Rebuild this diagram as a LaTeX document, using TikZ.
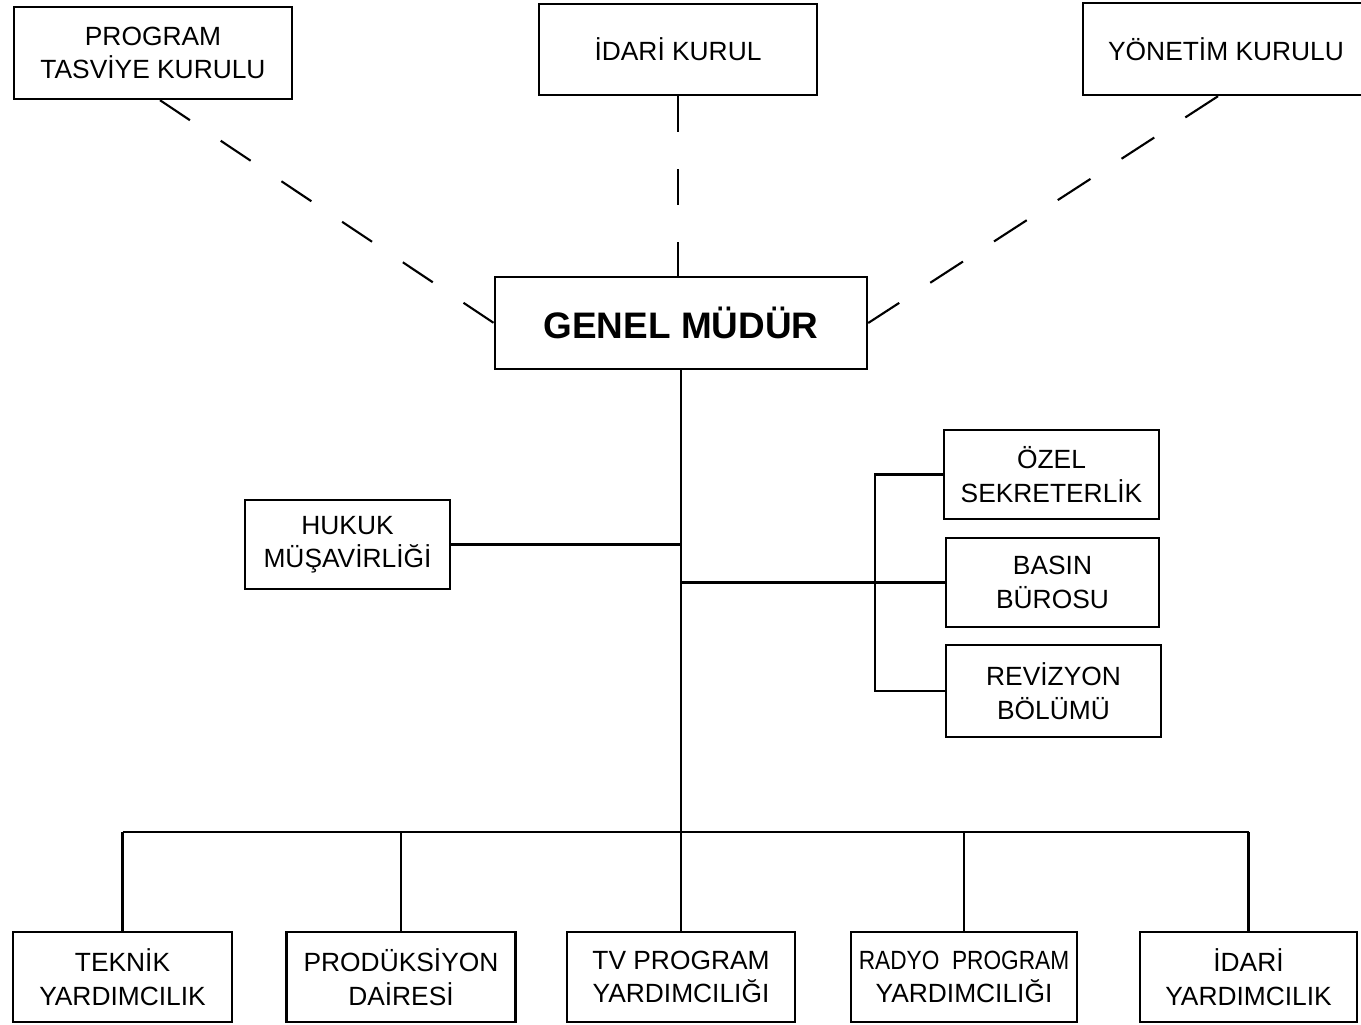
\documentclass[tikz,border=0pt]{standalone}
\usepackage{fontspec}
\setmainfont{Liberation Sans}
\usepackage{tikz}
\usetikzlibrary{calc}

\begin{document}
\begin{tikzpicture}[
  x=0.02cm,y=-0.02cm,
  box/.style={draw=black, line width=1.4pt, align=center, inner sep=0pt, minimum height=1.8cm, font=\fontsize{15}{19}\selectfont},
  chief/.style={box, font=\fontsize{21}{25}\selectfont\bfseries},
  link/.style={line width=1.2pt, draw=black},
  council/.style={link, dash pattern=on 0.72cm off 0.74cm}
]
\useasboundingbox (0,0) rectangle (1361,1024);
% top councils
\node[box, minimum width=5.56cm, minimum height=1.84cm] (prog) at (153,53) {PROGRAM\\TASVİYE KURULU};
\node[box, minimum width=5.56cm, minimum height=1.82cm] (idari) at (678,49.5) {İDARİ KURUL};
\node[box, minimum width=5.72cm, minimum height=1.84cm] (yonetim) at (1226,49) {YÖNETİM KURULU};
\node[chief, minimum width=7.44cm, minimum height=1.84cm] (genel) at (681,323) {GENEL MÜDÜR};
% staff units
\node[box, minimum width=4.1cm, minimum height=1.78cm] (hukuk) at (347.5,544.5) {HUKUK\\MÜŞAVİRLİĞİ};
\node[box, minimum width=4.3cm, minimum height=1.78cm] (ozel) at (1051.5,474.5) {ÖZEL\\SEKRETERLİK};
\node[box, minimum width=4.26cm, minimum height=1.78cm] (basin) at (1052.5,582.5) {BASIN\\BÜROSU};
\node[box, minimum width=4.3cm, minimum height=1.84cm] (revizyon) at (1053.5,691) {REVİZYON\\BÖLÜMÜ};
% line departments
\node[box, minimum width=4.38cm] (teknik) at (122.5,977) {TEKNİK\\YARDIMCILIK};
\node[box, minimum width=4.58cm] (produksiyon) at (401,977) {PRODÜKSİYON\\DAİRESİ};
\node[box, minimum width=4.56cm] (tv) at (681,977) {TV PROGRAM\\YARDIMCILIĞI};
\node[box, minimum width=4.52cm] (radyo) at (964,977) {\scalebox{0.86}[1]{RADYO\ \ PROGRAM}\\YARDIMCILIĞI};
\node[box, minimum width=4.34cm] (idariy) at (1248.5,977) {İDARİ\\YARDIMCILIK};
\coordinate (bus) at (681,832);
\coordinate (brk) at (875,582.5);

% dashed council links
\draw[council] ([xshift=0.14cm]prog.south) -- (genel.west);
\draw[council] (idari.south) -- (idari.south |- genel.north);
\draw[council, dash pattern=on 0.78cm off 0.74cm] ([xshift=-0.16cm]yonetim.south) -- (genel.east);
% solid lines
\draw[link] (genel.south) -- (bus);
\draw[link] (hukuk.east) -- (hukuk.east -| genel.south);
\draw[link] (genel.south |- brk) -- (basin.west);
\draw[link] (ozel.west) -| (brk) |- (revizyon.west);
\draw[link] (teknik.north |- bus) -- (idariy.north |- bus);
\foreach \d in {teknik,produksiyon,tv,radyo,idariy}
  \draw[link] (\d.north) -- (\d.north |- bus);
\end{tikzpicture}
\end{document}
